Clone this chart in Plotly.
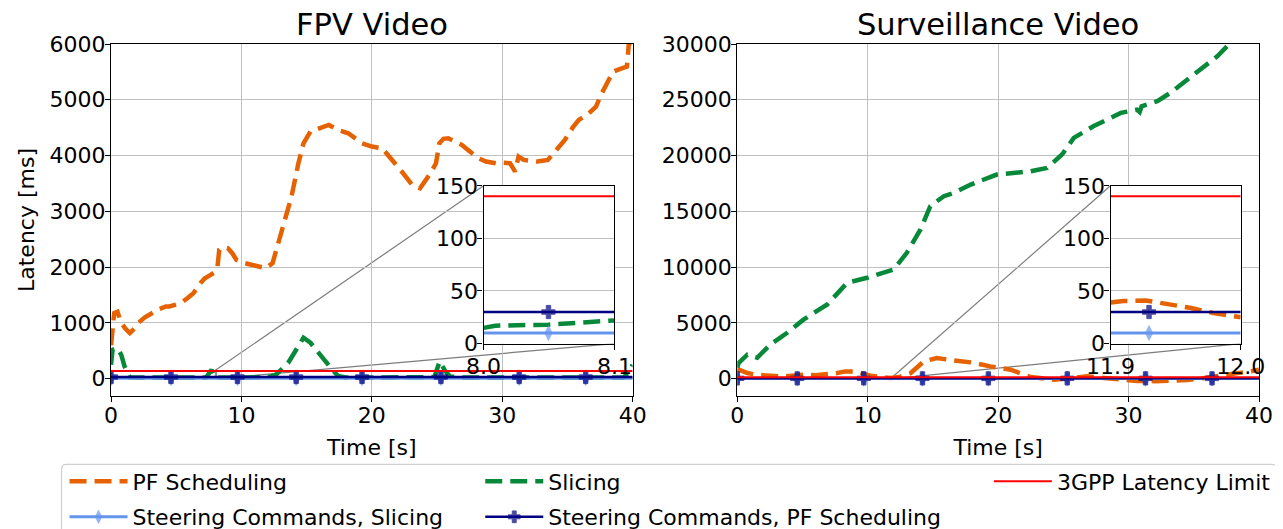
import plotly.graph_objects as go

# ---------------- data ----------------
# FPV Video
fpv_pf_t = [0, 0.1, 0.25, 0.5, 0.78, 1.1, 1.44, 1.8, 2.1, 2.6, 3.15, 3.7, 4.21, 4.47, 5.0, 5.53, 5.9, 6.32, 6.85,
            7.2, 7.64, 7.9, 8.17, 8.3, 8.6, 8.96, 9.3, 9.62, 10.28, 10.7, 11.07, 11.5, 11.86, 12.39, 12.9, 13.44,
            13.84, 14.37, 14.76, 15.29, 15.7, 16.08, 16.7, 17.4, 18.2, 19.25, 20.0, 20.8, 21.6, 22.4, 23.1, 23.7,
            24.5, 24.92, 25.18, 25.5, 25.85, 26.4, 26.9, 27.69, 28.2, 28.75, 29.54, 30.1, 30.6, 30.99, 31.25,
            31.65, 32.2, 32.7, 33.5, 34.2, 34.8, 35.4, 35.87, 36.6, 37.19, 37.6, 38.0, 38.5, 39.0, 39.56, 39.7,
            40.0]
fpv_pf_v = [600, 800, 1176, 1200, 1003, 900, 818, 900, 1003, 1100, 1176, 1250, 1295, 1294, 1330, 1384, 1450, 1533,
            1712, 1800, 1862, 1900, 2011, 2310, 2360, 2339, 2250, 2130, 2071, 2050, 2041, 2000, 1981, 2071, 2489,
            2907, 3265, 3862, 4220, 4430, 4460, 4489, 4549, 4459, 4400, 4220, 4161, 4131, 3922, 3683, 3474, 3414,
            3683, 3862, 4220, 4300, 4310, 4250, 4191, 4041, 3950, 3892, 3862, 3870, 3862, 3713, 3982, 3922, 3900,
            3892, 3922, 4100, 4280, 4500, 4639, 4750, 4877, 5100, 5295, 5504, 5550, 5594, 5982, 6100]

fpv_sl_t = [0, 0.12, 0.51, 0.8, 1.04, 1.44, 2.0, 4.0, 6.0, 7.3, 7.7, 7.95, 8.1, 10.0, 12.0, 12.65, 13.58, 14.2,
            14.76, 15.29, 16.08, 16.74, 17.4, 18.0, 20.0, 22.0, 24.4, 24.8, 25.2, 25.6, 26.0, 27.0, 30.0, 33.0,
            36.0, 39.3, 39.7, 40.0]
fpv_sl_v = [250, 519, 549, 420, 221, 25, 20, 18, 20, 20, 160, 20, 22, 20, 25, 72, 281, 519,
            734, 645, 406, 227, 48, 22, 20, 20, 20, 30, 310, 150, 40, 20, 20, 20,
            20, 20, 120, 250]

# Surveillance Video
sv_pf_t = [0, 0.13, 0.77, 1.5, 2.55, 3.4, 5.1, 6.0, 7.66, 8.3, 9.07, 10.2, 11.0, 11.75, 12.4, 13.3, 14.3, 15.3,
           16.6, 17.9, 19.4, 20.95, 22.5, 24.3, 25.5, 26.8, 28.1, 29.5, 30.65, 32.0, 33.2, 34.5, 35.8, 37.8,
           39.3, 40.0]
sv_pf_v = [900, 806, 508, 350, 269, 200, 358, 300, 508, 657, 657, 269, 150, 60, 150, 508, 1552, 1851,
           1642, 1463, 1104, 806, 149, -90, 50, 209, 60, -100, -200, -220, -200, -120, 60, 358,
           657, 800]

sv_sl_t = [0, 0.1, 0.77, 1.53, 2.55, 3.83, 5.1, 6.9, 8.43, 9.96, 12.0, 13.0, 14.05, 14.8, 15.84, 16.6, 17.9,
           19.9, 22.5, 23.75, 24.9, 25.8, 27.3, 29.4, 30.65, 30.85, 31.0, 32.2, 33.2, 34.5, 35.8, 36.8, 37.55,
           38.2]
sv_sl_v = [1000, 1403, 2149, 1881, 3075, 4120, 5314, 6657, 8597, 9045, 9791, 11284, 13374, 15464, 16359, 16658,
           17404, 18300, 18598, 18897, 20091, 21584, 22629, 23823, 24121, 23900, 24420, 24868, 25614, 26808,
           28002, 28897, 29792, 30600]

# Steering commands (marker positions and end point)
steer_t = [0, 4.6, 9.7, 14.2, 19.25, 25.3, 31.3, 36.4, 40.0]
steer_pf_v = [30, 30, 30, 30, 30, 30, 30, 30, 30]
steer_sl_v = [10, 10, 10, 10, 10, 10, 10, 10, 10]

limit_t = [0, 40]
limit_v = [140, 140]

# Inset data (FPV, 8.0 - 8.1 s)
in1_t = [8.0, 8.0496, 8.1]
in1_steer_pf = [30, 30, 30]
in1_steer_sl = [10, 10, 10]
in1_sl_t = [8.0, 8.009, 8.0496, 8.074, 8.1]
in1_sl_v = [14.9, 17, 18, 19.5, 22]

# Inset data (Surveillance, 11.9 - 12.0 s)
in2_t = [11.9, 11.9296, 12.0]
in2_steer_pf = [30, 30, 30]
in2_steer_sl = [10, 10, 10]
in2_pf_t = [11.9, 11.91, 11.927, 11.943, 11.961, 11.979, 12.0]
in2_pf_v = [39, 40.5, 41, 38, 34, 29, 25]

x_ticks = [0, 10, 20, 30, 40]
fpv_yticks = [0, 1000, 2000, 3000, 4000, 5000, 6000]
sv_yticks = [0, 5000, 10000, 15000, 20000, 25000, 30000]
inset_yticks = [0, 50, 100, 150]

# ---------------- style ----------------
C_PF = "#E66100"
C_SL = "#08893A"
C_SSL = "#6495ED"
C_SPF = "#000080"
C_LIM = "#FF0000"
FONT = "DejaVu Sans"
FS = 22
DASH = "17px,8px"

OFF = 8  # page body margin in the browser
W, H = 1283, 529
ML, MT = 110.5 - OFF, 44 - OFF
MR = W - (1259.3 - OFF)
MB = H - (396.5 - OFF)
PW = W - ML - MR
PH = H - MT - MB


def px_x(p):
    return (p - OFF - ML) / PW


def px_y(p):
    return (H - MB - (p - OFF)) / PH


dom1 = [0, px_x(632.5)]
dom2 = [px_x(737.2), 1]
in1_dom = [px_x(483.3), px_x(614.3)]
in2_dom = [px_x(1110.7), px_x(1241.0)]
in_ydom = [px_y(344), px_y(186)]

fpv_range = [-310, 6000]
sv_range = [-1550, 30000]
in1_xr = [8.0, 8.1]
in2_xr = [11.9, 12.0]
in_yr = [0, 150]

fig = go.Figure()

MK_SL = dict(symbol="diamond-tall", color=C_SSL, line=dict(color=C_SSL, width=0.5))
MK_PF = dict(symbol="cross", color=C_SPF, line=dict(color=C_SPF, width=1))
SZ = 11


def add_main(xa, ya, pf_t, pf_v, sl_t, sl_v, show):
    fig.add_trace(go.Scatter(x=pf_t, y=pf_v, mode="lines", name="PF Scheduling",
                             line=dict(color=C_PF, width=4.5, dash=DASH), xaxis=xa, yaxis=ya,
                             showlegend=show, legend="legend", legendgroup="a"))
    fig.add_trace(go.Scatter(x=sl_t, y=sl_v, mode="lines", name="Slicing",
                             line=dict(color=C_SL, width=4.5, dash=DASH), xaxis=xa, yaxis=ya,
                             showlegend=show, legend="legend2", legendgroup="c"))
    sizes = [SZ] * (len(steer_t) - 1) + [0]
    fig.add_trace(go.Scatter(x=steer_t, y=steer_sl_v, mode="lines+markers", name="Steering Commands, Slicing",
                             line=dict(color=C_SSL, width=3), marker=dict(size=sizes, **MK_SL),
                             xaxis=xa, yaxis=ya, showlegend=show, legend="legend", legendgroup="b"))
    fig.add_trace(go.Scatter(x=steer_t, y=steer_pf_v, mode="lines+markers", name="Steering Commands, PF Scheduling",
                             line=dict(color=C_SPF, width=2.5), marker=dict(size=sizes, **MK_PF),
                             xaxis=xa, yaxis=ya, showlegend=show, legend="legend2", legendgroup="d"))
    fig.add_trace(go.Scatter(x=limit_t, y=limit_v, mode="lines", name="3GPP Latency Limit",
                             line=dict(color=C_LIM, width=2), xaxis=xa, yaxis=ya,
                             showlegend=show, legend="legend3", legendgroup="e"))


add_main("x", "y", fpv_pf_t, fpv_pf_v, fpv_sl_t, fpv_sl_v, True)
add_main("x2", "y2", sv_pf_t, sv_pf_v, sv_sl_t, sv_sl_v, False)

# inset 1
fig.add_trace(go.Scatter(x=in1_sl_t, y=in1_sl_v, mode="lines", line=dict(color=C_SL, width=4.5, dash=DASH),
                         xaxis="x3", yaxis="y3", showlegend=False))
fig.add_trace(go.Scatter(x=in1_t, y=in1_steer_sl, mode="lines+markers", line=dict(color=C_SSL, width=3),
                         marker=dict(size=[0, SZ, 0], **MK_SL), xaxis="x3", yaxis="y3", showlegend=False))
fig.add_trace(go.Scatter(x=in1_t, y=in1_steer_pf, mode="lines+markers", line=dict(color=C_SPF, width=2.5),
                         marker=dict(size=[0, SZ, 0], **MK_PF), xaxis="x3", yaxis="y3", showlegend=False))
fig.add_trace(go.Scatter(x=in1_xr, y=limit_v, mode="lines", line=dict(color=C_LIM, width=2),
                         xaxis="x3", yaxis="y3", showlegend=False))
# inset 2
fig.add_trace(go.Scatter(x=in2_pf_t, y=in2_pf_v, mode="lines", line=dict(color=C_PF, width=4.5, dash=DASH),
                         xaxis="x4", yaxis="y4", showlegend=False))
fig.add_trace(go.Scatter(x=in2_t, y=in2_steer_sl, mode="lines+markers", line=dict(color=C_SSL, width=3),
                         marker=dict(size=[0, SZ, 0], **MK_SL), xaxis="x4", yaxis="y4", showlegend=False))
fig.add_trace(go.Scatter(x=in2_t, y=in2_steer_pf, mode="lines+markers", line=dict(color=C_SPF, width=2.5),
                         marker=dict(size=[0, SZ, 0], **MK_PF), xaxis="x4", yaxis="y4", showlegend=False))
fig.add_trace(go.Scatter(x=in2_xr, y=limit_v, mode="lines", line=dict(color=C_LIM, width=2),
                         xaxis="x4", yaxis="y4", showlegend=False))

axis_common = dict(showline=True, linecolor="black", linewidth=1.1, mirror=True, ticks="outside",
                   ticklen=5, tickwidth=1.1, tickcolor="black", showgrid=True, gridcolor="#c0c0c0",
                   gridwidth=1, zeroline=False, ticklabelstandoff=-5, tickformat="d",
                   tickfont=dict(family=FONT, size=FS, color="black"))
inset_x = dict(axis_common, ticklabelstandoff=-2)

legend_common = dict(xanchor="left", yanchor="top", bgcolor="rgba(0,0,0,0)", borderwidth=0,
                     font=dict(family=FONT, size=FS), itemwidth=58, tracegroupgap=4,
                     traceorder="grouped")

fig.update_layout(
    width=W, height=H, margin=dict(l=ML, r=MR, t=MT, b=MB, autoexpand=False),
    paper_bgcolor="white", plot_bgcolor="white",
    font=dict(family=FONT, size=FS, color="black"),
    xaxis=dict(domain=dom1, range=[0, 40], tickvals=x_ticks, anchor="y",
               title=dict(text="Time [s]", font=dict(family=FONT, size=FS), standoff=12), **axis_common),
    yaxis=dict(domain=[0, 1], range=fpv_range, tickvals=fpv_yticks, anchor="x",
               title=dict(text="Latency [ms]", font=dict(family=FONT, size=FS), standoff=8), **axis_common),
    xaxis2=dict(domain=dom2, range=[0, 40], tickvals=x_ticks, anchor="y2",
                title=dict(text="Time [s]", font=dict(family=FONT, size=FS), standoff=12), **axis_common),
    yaxis2=dict(domain=[0, 1], range=sv_range, tickvals=sv_yticks, anchor="x2", **axis_common),
    xaxis3=dict(domain=in1_dom, range=in1_xr, tickvals=in1_xr, ticktext=["8.0", "8.1"], anchor="y3",
                **inset_x),
    yaxis3=dict(domain=in_ydom, range=in_yr, tickvals=inset_yticks, anchor="x3", **axis_common),
    xaxis4=dict(domain=in2_dom, range=in2_xr, tickvals=in2_xr, ticktext=["11.9", "12.0"], anchor="y4",
                **inset_x),
    yaxis4=dict(domain=in_ydom, range=in_yr, tickvals=inset_yticks, anchor="x4", **axis_common),
    legend=dict(x=px_x(64), y=px_y(461), **legend_common),
    legend2=dict(x=px_x(480), y=px_y(461), **legend_common),
    legend3=dict(x=px_x(989), y=px_y(461), **legend_common),
)

# titles
fig.add_annotation(text="FPV Video", x=(dom1[0] + dom1[1]) / 2, y=1, xref="paper", yref="paper",
                   xanchor="center", yanchor="bottom", yshift=0, showarrow=False,
                   font=dict(family=FONT, size=30.5, color="black"))
fig.add_annotation(text="Surveillance Video", x=(dom2[0] + dom2[1]) / 2, y=1, xref="paper", yref="paper",
                   xanchor="center", yanchor="bottom", yshift=0, showarrow=False,
                   font=dict(family=FONT, size=30.5, color="black"))


# inset indicator rectangles and connector lines
def paper_to_data(p, dom, rng):
    return rng[0] + (p - dom[0]) / (dom[1] - dom[0]) * (rng[1] - rng[0])


for xa, ya, dom, rng, inx, indom in [("x", "y", dom1, fpv_range, in1_xr, in1_dom),
                                      ("x2", "y2", dom2, sv_range, in2_xr, in2_dom)]:
    fig.add_shape(type="rect", xref=xa, yref=ya, x0=inx[0], x1=inx[1], y0=in_yr[0], y1=in_yr[1],
                  line=dict(color="rgba(100,100,100,0.8)", width=1), layer="below")
    tlx = paper_to_data(indom[0], dom, [0, 40])
    brx = paper_to_data(indom[1], dom, [0, 40])
    tly = paper_to_data(in_ydom[1], [0, 1], rng)
    bry = paper_to_data(in_ydom[0], [0, 1], rng)
    fig.add_shape(type="line", xref=xa, yref=ya, x0=inx[0], y0=in_yr[1], x1=tlx, y1=tly,
                  line=dict(color="rgba(110,110,110,0.9)", width=1.2), layer="below")
    fig.add_shape(type="line", xref=xa, yref=ya, x0=inx[1], y0=in_yr[0], x1=brx, y1=bry,
                  line=dict(color="rgba(110,110,110,0.9)", width=1.2), layer="below")

# legend frame (rounded top corners)
lx0, lx1 = px_x(61), px_x(1277)
ly1, ly0 = px_y(465), px_y(545)
rx, ry = 5 / PW, 5 / PH
frame = (f"M{lx0},{ly0} L{lx0},{ly1 - ry} Q{lx0},{ly1} {lx0 + rx},{ly1} "
         f"L{lx1 - rx},{ly1} Q{lx1},{ly1} {lx1},{ly1 - ry} L{lx1},{ly0}")
fig.add_shape(type="path", path=frame, xref="paper", yref="paper",
              line=dict(color="#cfcfcf", width=1.2))

fig.write_html("out.html")
